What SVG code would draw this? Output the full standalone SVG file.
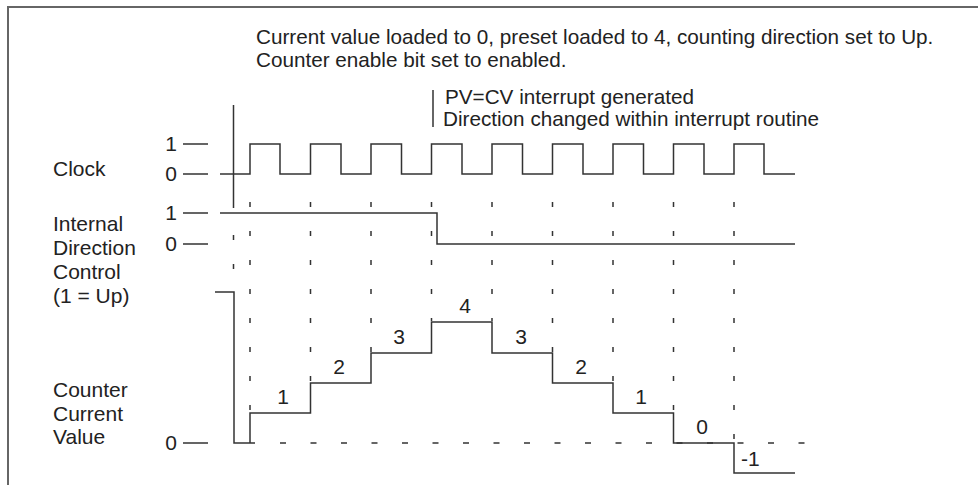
<svg xmlns="http://www.w3.org/2000/svg" width="978" height="487" viewBox="0 0 978 487">
<style>
text{font-family:"Liberation Sans",Arial,sans-serif;fill:#222}
.lbl{font-size:21px}
.note{font-size:20.7px}
.num{font-size:21px}
.wave{fill:none;stroke:#333;stroke-width:1.5}
.tick{stroke:#333;stroke-width:1.5}
.dv{stroke:#333;stroke-width:1.5;stroke-dasharray:5 24}
</style>
<rect width="978" height="487" fill="#fff"/>
<path d="M8,485 V7 H978" fill="none" stroke="#666" stroke-width="2"/>
<g id="notes">
<text class="note" x="256" y="44">Current value loaded to 0, preset loaded to 4, counting direction set to Up.</text>
<text class="note" x="256" y="67">Counter enable bit set to enabled.</text>
<line class="tick" x1="433" y1="90" x2="433" y2="127"/>
<text class="note" x="445" y="104">PV=CV interrupt generated</text>
<text class="note" x="443" y="126">Direction changed within interrupt routine</text>
</g>
<g id="labels">
<text class="lbl" x="53" y="176">Clock</text>
<text class="lbl" x="53" y="231">Internal</text>
<text class="lbl" x="53" y="255">Direction</text>
<text class="lbl" x="53" y="279">Control</text>
<text class="lbl" x="53" y="303">(1 = Up)</text>
<text class="lbl" x="53" y="397">Counter</text>
<text class="lbl" x="53" y="421">Current</text>
<text class="lbl" x="53" y="444">Value</text>
<g text-anchor="end">
<text class="lbl" x="177" y="151">1</text>
<text class="lbl" x="177" y="181">0</text>
<text class="lbl" x="177" y="220">1</text>
<text class="lbl" x="177" y="251">0</text>
<text class="lbl" x="177" y="450">0</text>
</g>
<path class="tick" d="M183,144H208M183,174H208M183,213H208M183,244H208M183,443H208"/>
</g>
<g id="clock">
<path class="wave" d="M220,174 H250 V144 H280 V174 H310.5 V144 H341 V174 H371 V144 H401.5 V174 H431.5 V144 H462 V174 H492 V144 H522.5 V174 H552.5 V144 H583 V174 H613 V144 H643.5 V174 H673.5 V144 H704 V174 H734 V144 H764 V174 H795"/>
<line class="tick" x1="233.5" y1="105" x2="233.5" y2="208"/>
</g>
<g id="direction">
<path class="wave" d="M220,213 H437 V244 H795"/>
</g>
<g id="counter">
<path class="wave" d="M215,292 H234 V443 H255 M250,443 V413 H310.5 V383 H371 V353 H431.5 V322 H492 V353 H552.5 V383 H613 V413 H673.5 V443 H734 V473 H795"/>
<line x1="280" y1="443" x2="810" y2="443" stroke="#333" stroke-width="1.5" stroke-dasharray="6 24.5"/>
<text class="num" x="283" y="404" text-anchor="middle">1</text>
<text class="num" x="339" y="374" text-anchor="middle">2</text>
<text class="num" x="399" y="344" text-anchor="middle">3</text>
<text class="num" x="465" y="313" text-anchor="middle">4</text>
<text class="num" x="521" y="344" text-anchor="middle">3</text>
<text class="num" x="581" y="374" text-anchor="middle">2</text>
<text class="num" x="641" y="404" text-anchor="middle">1</text>
<text class="num" x="702" y="434" text-anchor="middle">0</text>
<text class="num" x="741" y="466">-1</text>
</g>
<g id="gridlines">
<line class="dv" x1="233.5" y1="235" x2="233.5" y2="270"/>
<line class="dv" x1="250" y1="202" x2="250" y2="412"/>
<line class="dv" x1="310.5" y1="202" x2="310.5" y2="382"/>
<line class="dv" x1="371" y1="202" x2="371" y2="352"/>
<line class="dv" x1="431.5" y1="202" x2="431.5" y2="321"/>
<line class="dv" x1="492" y1="202" x2="492" y2="321"/>
<line class="dv" x1="552.5" y1="202" x2="552.5" y2="352"/>
<line class="dv" x1="613" y1="202" x2="613" y2="382"/>
<line class="dv" x1="673.5" y1="202" x2="673.5" y2="412"/>
<line class="dv" x1="734" y1="202" x2="734" y2="442"/>
</g>
</svg>
